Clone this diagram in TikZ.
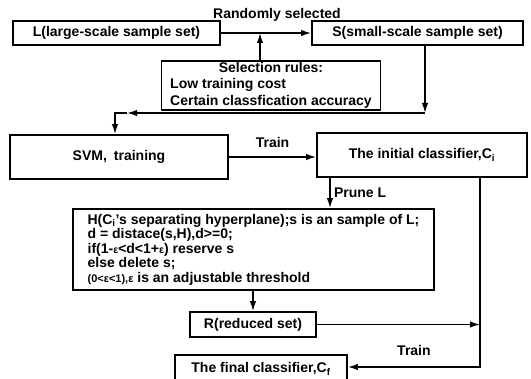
\documentclass[tikz,border=0pt]{standalone}
\usepackage{fontspec}
\setmainfont{Liberation Sans}
\usetikzlibrary{arrows.meta}
\newcommand{\smalleps}{{\fontsize{10.5}{12}\selectfont ε}}
\begin{document}
\begin{tikzpicture}[x=1pt, y=-1pt, line width=1.5pt,
    every node/.style={font=\fontsize{14}{14.5}\selectfont\bfseries},
    box/.style={draw, line width=1.8pt, inner sep=0pt},
    >={Latex[length=10pt,width=6.5pt]}]
    \useasboundingbox (0,0) rectangle (531,379);
    \node (rand) at (277,15) {Randomly selected};
    \node[box, minimum width=207, minimum height=24] (L) at (116.5,33) {L(large-scale sample set)};
    \node[box, minimum width=211, minimum height=24] (S) at (417.5,33) {S(small-scale sample set)};
    \node[box, minimum width=219, minimum height=47] (sel) at (271,85.5)
        {\fontsize{14}{16.5}\selectfont\begin{tabular}{@{}l@{}}\multicolumn{1}{c}{Selection rules:}\\
         Low training cost\\ Certain classfication accuracy\end{tabular}};
    \coordinate (pick) at (260,33);
    \draw[->] (L) -- (S);
    \draw[->] (sel.north -| pick) -- (pick);
    % S goes back to the SVM
    \coordinate (drop) at (425,113);
    \coordinate (kink) at (127,113);
    \coordinate (stub) at (115,113);
    \node[box, minimum width=218, minimum height=44] (svm) at (119,157) {SVM,\enspace training};
    \node[box, minimum width=210, minimum height=44] (init) at (422,155) {The initial classifier,C\textsubscript{i}};
    \draw[->] (S.south -| drop) -- (drop);
    \draw[->] (drop) -- (kink);
    \draw[->] (kink) -- (stub) -- (stub |- svm.north);
    \draw[->] (svm.east) -- (svm.east -| init.west) node[midway, above=5pt] {Train};
    \node[box, minimum width=361, minimum height=81, align=left] (H) at (253.5,249.5)
        {H(C\textsubscript{i}'s separating hyperplane);s is an sample of L;\\
         d = distace(s,H),d>=0;\\
         if(1-\smalleps<d<1+\smalleps) reserve s\\
         else delete s;\\
         {\fontsize{11}{14.5}\selectfont(0<ε<1),ε} is an adjustable threshold};
    \coordinate (cut) at (330,0);
    \draw[->] (init.south -| cut) -- (H.north -| cut) node[midway, right] {Prune L};
    \node[box, minimum width=126, minimum height=25] (R) at (253,324.5) {R(reduced set)};
    \node[box, minimum width=172, minimum height=28] (final) at (261,369) {The final classifier,C\textsubscript{f}};
    \draw[->] (H.south -| R) -- (R);
    \coordinate (railbot) at (480,367);
    \draw[->] (R) -- (R -| railbot);
    \draw[->] (init.south -| railbot) -- (railbot) -- (railbot -| final.east)
        node[midway, above=7pt] {Train};
\end{tikzpicture}
\end{document}
